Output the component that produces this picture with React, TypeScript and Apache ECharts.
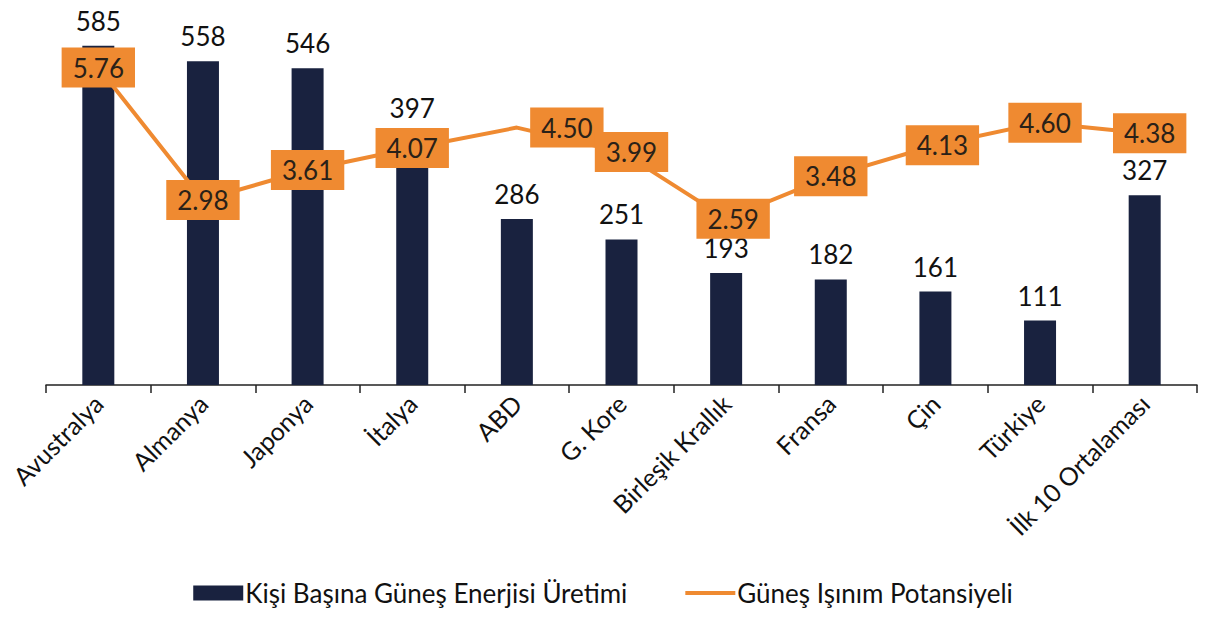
import React, { useEffect, useRef } from "react";
import * as echarts from "echarts";

const categories = [
  "Avustralya",
  "Almanya",
  "Japonya",
  "İtalya",
  "ABD",
  "G. Kore",
  "Birleşik Krallık",
  "Fransa",
  "Çin",
  "Türkiye",
  "İlk 10 Ortalaması",
];
const perCapita = [585, 558, 546, 397, 286, 251, 193, 182, 161, 111, 327];
const irradiation = [5.76, 2.98, 3.61, 4.07, 4.5, 3.99, 2.59, 3.48, 4.13, 4.6, 4.38];
const lineLabelShiftX = [0, 0, 0, 0, 50, 10, 7, 0, 7, 5, 5];
const barLabelShiftY = [0, 0, 0, -22, 0, 0, 0, 0, 0, 0, 0];

const barName = "Kişi Başına Güneş Enerjisi Üretimi";
const lineName = "Güneş Işınım Potansiyeli";

const NAVY = "#19223f";
const ORANGE = "#ef8a31";
const FONT = "Lato, 'Noto Sans', sans-serif";

export default function App() {
  const ref = useRef<HTMLDivElement>(null);
  useEffect(() => {
    document.body.style.margin = "0";
    const chart = echarts.init(ref.current!, null, { renderer: "svg" });
    chart.setOption({
      animation: false,
      backgroundColor: "#ffffff",
      textStyle: { fontFamily: FONT },
      grid: { left: 46, right: 9, top: 37, bottom: 232, containLabel: false },
      legend: {
        bottom: 6,
        left: "center",
        itemGap: 58,
        itemWidth: 50,
        itemHeight: 15,
        textStyle: { fontSize: 26, color: "#111", fontFamily: FONT, padding: [0, 0, 0, -3] },
        data: [
          { name: barName, icon: "rect", itemStyle: { color: NAVY } },
          { name: lineName, icon: "path://M0,0H60V5H0Z", itemStyle: { color: ORANGE } },
        ],
      },
      xAxis: {
        type: "category",
        data: categories,
        axisLine: { lineStyle: { color: "#222", width: 1.5 } },
        axisTick: { show: true, length: 8, lineStyle: { color: "#222", width: 1.5 } },
        axisLabel: {
          rotate: 45,
          fontSize: 25,
          color: "#111",
          margin: 14,
          interval: 0,
          fontFamily: FONT,
        },
      },
      yAxis: [
        { type: "value", min: 0, max: 600, show: false, splitLine: { show: false } },
        { type: "value", min: -0.9, max: 6.4, show: false, splitLine: { show: false } },
      ],
      series: [
        {
          name: barName,
          type: "bar",
          data: perCapita.map((v, i) => ({
            value: v,
            label: { offset: [0, barLabelShiftY[i]] },
          })),
          barWidth: 32,
          itemStyle: { color: NAVY },
          label: {
            show: true,
            position: "top",
            distance: 12,
            fontSize: 26,
            color: "#111",
            fontFamily: FONT,
          },
          z: 2,
        },
        {
          name: lineName,
          type: "line",
          yAxisIndex: 1,
          data: irradiation.map((v, i) => ({
            value: v,
            label: { offset: [lineLabelShiftX[i], 0] },
          })),
          symbol: "circle",
          symbolSize: 2,
          itemStyle: { color: ORANGE },
          lineStyle: { color: ORANGE, width: 4 },
          label: {
            show: true,
            position: "inside",
            formatter: (p: any) => Number(p.value).toFixed(2),
            fontSize: 26,
            color: "#2a2118",
            backgroundColor: ORANGE,
            padding: [8, 11, 6, 11],
            fontFamily: FONT,
          },
          z: 5,
        },
      ],
    });
    return () => chart.dispose();
  }, []);
  return <div ref={ref} style={{ width: 1206, height: 617 }} />;
}
